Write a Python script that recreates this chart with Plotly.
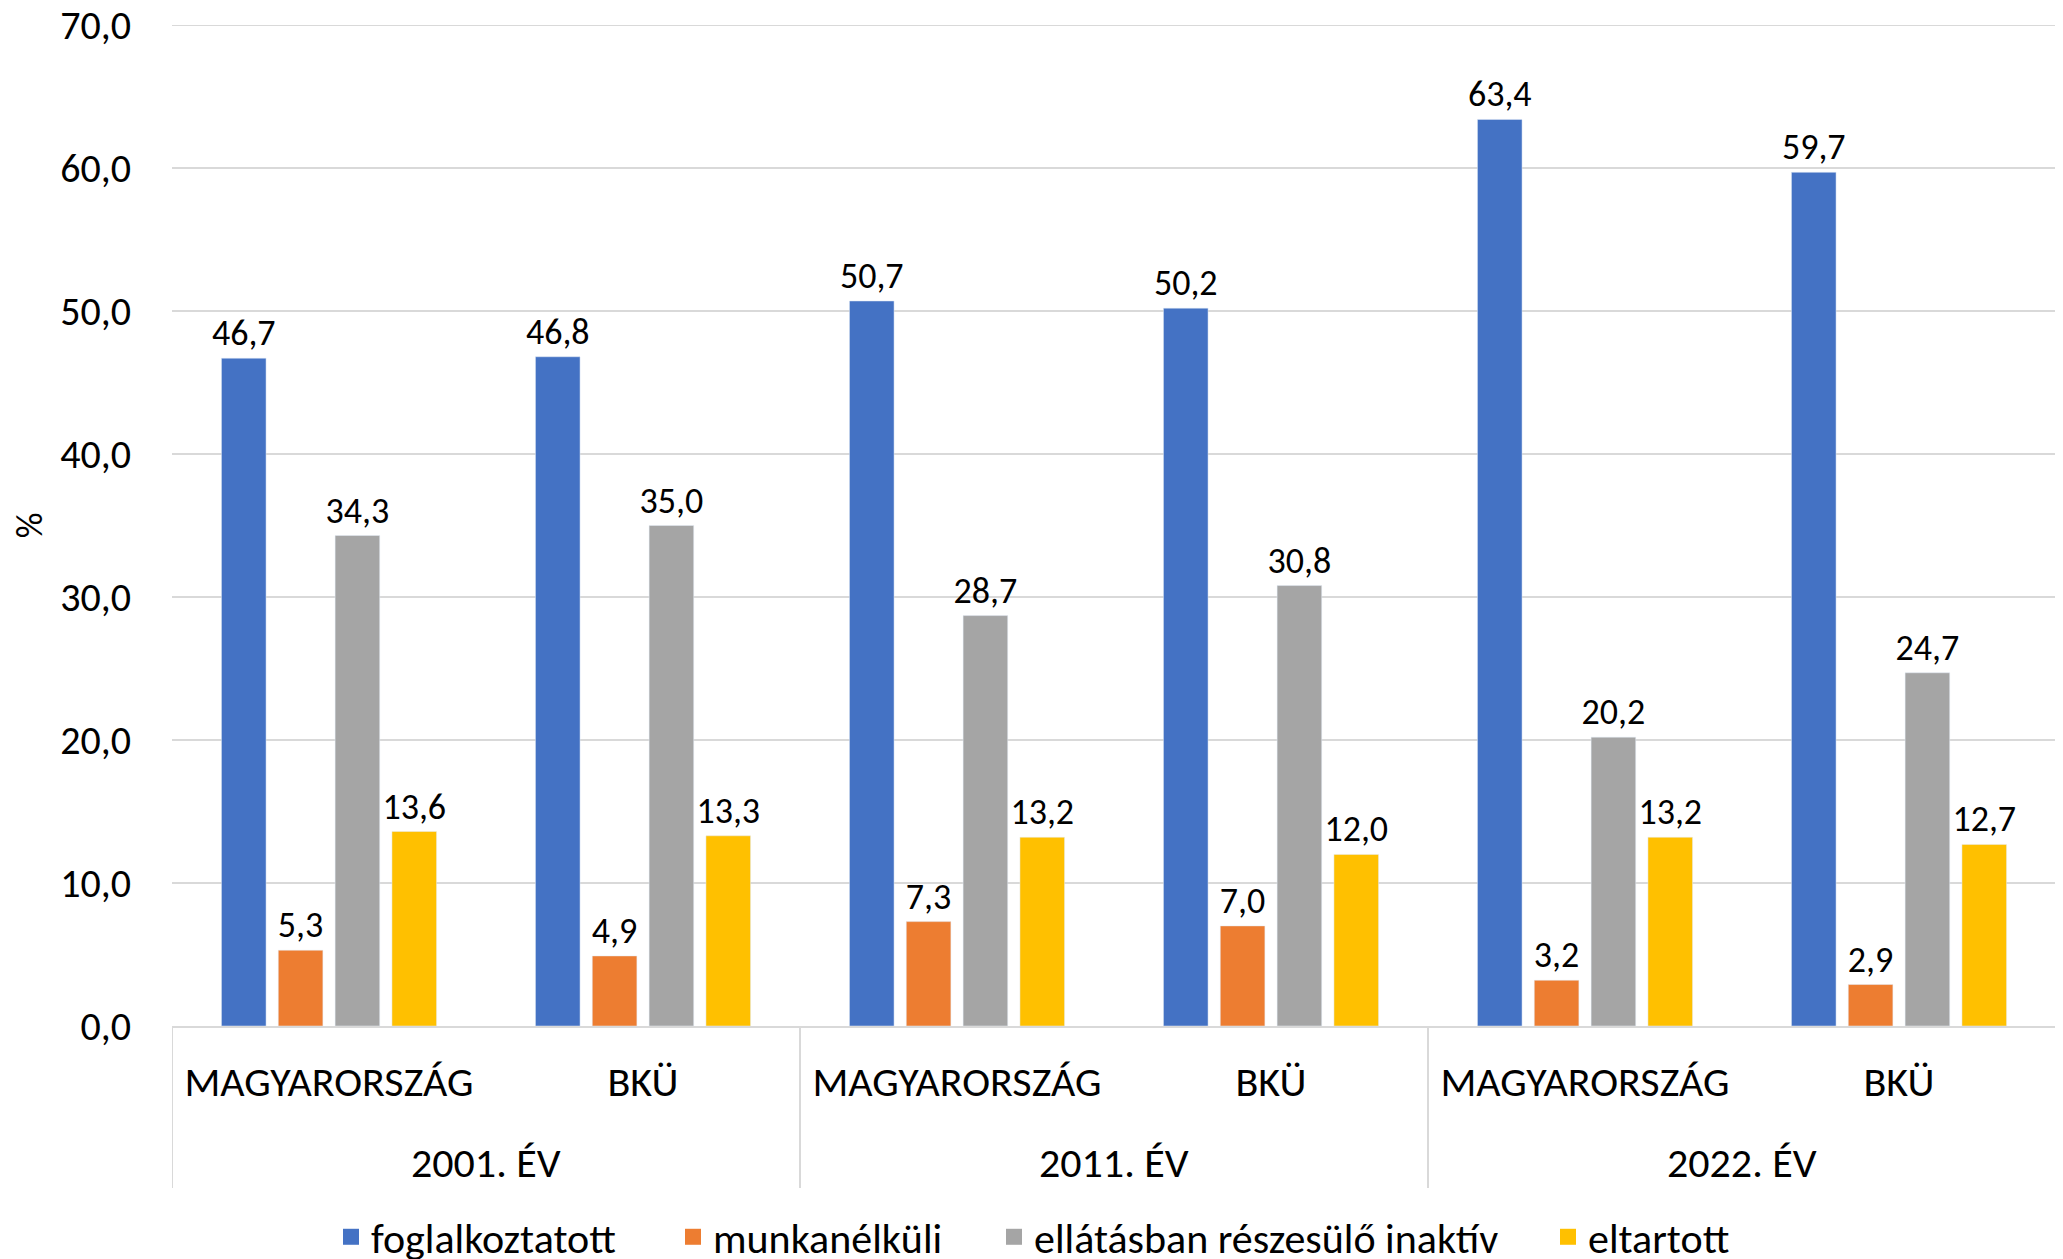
import plotly.graph_objects as go

years = ["2001. ÉV", "2001. ÉV", "2011. ÉV", "2011. ÉV", "2022. ÉV", "2022. ÉV"]
regions = ["MAGYARORSZÁG", "BKÜ", "MAGYARORSZÁG", "BKÜ", "MAGYARORSZÁG", "BKÜ"]

series_names = ["foglalkoztatott", "munkanélküli", "ellátásban részesülő inaktív", "eltartott"]
foglalkoztatott = [46.7, 46.8, 50.7, 50.2, 63.4, 59.7]
munkanelkuli = [5.3, 4.9, 7.3, 7.0, 3.2, 2.9]
inaktiv = [34.3, 35.0, 28.7, 30.8, 20.2, 24.7]
eltartott = [13.6, 13.3, 13.2, 12.0, 13.2, 12.7]
colors = ["#4472C4", "#ED7D31", "#A5A5A5", "#FFC000"]
y_max = 70

FONT = "Carlito, Calibri, Lato, sans-serif"
W, H = 2055, 1251  # page body has an 8px default margin
PLOT_H = 1001

x_pos = list(range(len(regions)))

legend_x_px = [323, 665, 986, 1540]
legend_names = ["legend", "legend2", "legend3", "legend4"]

fig = go.Figure()
for name, vals, col in zip(series_names, [foglalkoztatott, munkanelkuli, inaktiv, eltartott], colors):
    fig.add_trace(go.Bar(
        x=x_pos, y=vals, name=name, marker_color=col, showlegend=False,
        texttemplate="%{y:.1f}", textposition="outside", cliponaxis=False,
        constraintext="none",
        textfont=dict(size=36, color="black", family=FONT),
    ))
# legend entries (square symbols)
for name, col, lg in zip(series_names, colors, legend_names):
    fig.add_trace(go.Scatter(
        x=[x_pos[0]], y=[None], mode="markers", name=name, legend=lg,
        marker=dict(symbol="square", size=16, color=col), showlegend=True, hoverinfo="skip",
    ))

# grid line at the top of the range
fig.add_shape(type="line", xref="paper", yref="y", x0=0, x1=1, y0=y_max, y1=y_max,
              line=dict(color="#D9D9D9", width=2), layer="below")

# year groups: outer labels and dividers
groups = []
for i, yv in enumerate(years):
    if not groups or groups[-1][0] != yv:
        groups.append([yv, i, i])
    else:
        groups[-1][2] = i
div_y = -162 / PLOT_H
for yv, i0, i1 in groups:
    fig.add_annotation(x=(i0 + i1) / 2, xref="x", y=-136 / PLOT_H, yref="paper", text=yv,
                       showarrow=False, yanchor="middle", font=dict(size=42, family=FONT, color="black"))
    fig.add_shape(type="line", xref="x", yref="paper", x0=i0 - 0.5, x1=i0 - 0.5, y0=0, y1=div_y,
                  line=dict(color="#D9D9D9", width=2))
fig.add_shape(type="line", xref="x", yref="paper", x0=groups[-1][2] + 0.5, x1=groups[-1][2] + 0.5,
              y0=0, y1=div_y, line=dict(color="#D9D9D9", width=2))

legend_common = dict(orientation="h", xref="container", yref="container", xanchor="left",
                     y=0.0176, yanchor="middle", font=dict(size=42, family=FONT),
                     bgcolor="rgba(0,0,0,0)")
layout_legends = {}
for lg, px in zip(legend_names, legend_x_px):
    layout_legends[lg] = dict(legend_common, x=px / W)

fig.update_layout(
    width=W, height=H,
    margin=dict(l=164, r=7, t=17, b=233),
    barmode="group", bargap=0.276, bargroupgap=0.215,
    separators=", ",
    plot_bgcolor="white", paper_bgcolor="white",
    font=dict(family=FONT, color="black", size=36),
    showlegend=True,
    **layout_legends,
)
fig.update_yaxes(range=[0, y_max], dtick=10, tickformat=".1f", gridcolor="#D9D9D9", gridwidth=2,
                 showline=False, zeroline=False, ticks="", tickfont=dict(size=40, family=FONT),
                 ticklabelstandoff=40, ticklabeloverflow="allow", automargin=False,
                 title=dict(text="%", font=dict(size=36, family=FONT), standoff=20))
fig.update_xaxes(range=[-0.5, len(regions) - 0.5], tickvals=x_pos, ticktext=regions,
                 showline=True, linecolor="#D9D9D9", linewidth=2, showgrid=False, zeroline=False,
                 tickfont=dict(size=42, family=FONT), ticks="", tickangle=0,
                 ticklabelstandoff=18, automargin=False)

fig.write_html("out.html")
